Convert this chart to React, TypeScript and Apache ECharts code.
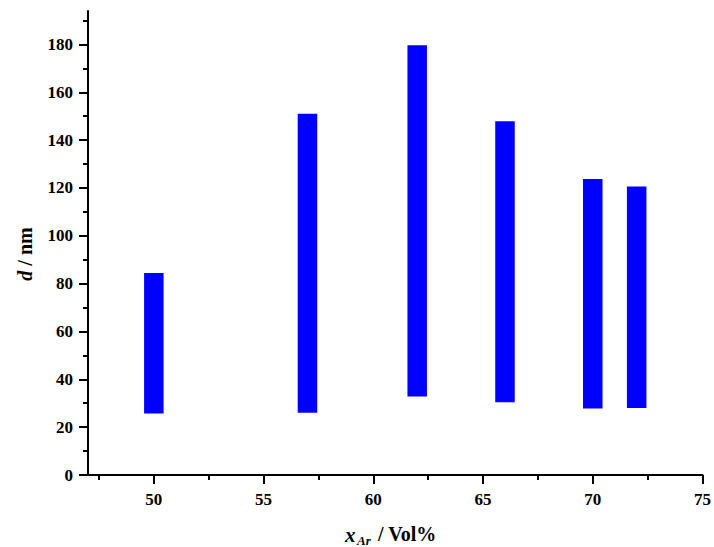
import React, { useEffect, useRef } from "react";
import * as echarts from "echarts";

const xPositions = [50, 57, 62, 66, 70, 72];
const lowValues = [25.7, 26.0, 32.8, 30.4, 27.8, 28.0];
const highValues = [84.5, 151.0, 179.7, 147.9, 123.8, 120.6];

const xMajorTicks = [50, 55, 60, 65, 70, 75];
const xMinorTicks = [47.5, 52.5, 57.5, 62.5, 67.5, 72.5];
const yMajorTicks = [0, 20, 40, 60, 80, 100, 120, 140, 160, 180];
const yMinorTicks = [10, 30, 50, 70, 90, 110, 130, 150, 170, 190];

const FONT = "Liberation Serif";

export default function App() {
  const ref = useRef<HTMLDivElement>(null);
  useEffect(() => {
    document.body.style.margin = "0";
    if (!ref.current) return;
    const chart = echarts.init(ref.current, null, { renderer: "svg" });
    const data = xPositions.map((x, i) => [x, lowValues[i], highValues[i]]);
    const axisLine = { show: true, onZero: false, lineStyle: { color: "#000", width: 2 } };
    const labelStyle = { color: "#000", fontFamily: FONT, fontWeight: "bold" as const, fontSize: 17 };
    chart.setOption({
      animation: false,
      backgroundColor: "#fff",
      grid: { left: 88, right: 10.5, top: 11, bottom: 72, containLabel: false },
      xAxis: [
        {
          type: "value",
          position: "bottom",
          min: 47,
          max: 75,
          axisLine,
          splitLine: { show: false },
          axisTick: { show: true, length: 9, lineStyle: { color: "#000", width: 2 }, customValues: xMajorTicks },
          axisLabel: { ...labelStyle, margin: 16, customValues: xMajorTicks },
        },
        {
          type: "value",
          position: "bottom",
          min: 47,
          max: 75,
          axisLine: { show: false },
          splitLine: { show: false },
          axisTick: { show: true, length: 5, lineStyle: { color: "#000", width: 2 }, customValues: xMinorTicks },
          axisLabel: { show: false },
        },
      ],
      yAxis: [
        {
          type: "value",
          position: "left",
          min: 0,
          max: 194,
          axisLine,
          splitLine: { show: false },
          axisTick: { show: true, length: 9, lineStyle: { color: "#000", width: 2 }, customValues: yMajorTicks },
          axisLabel: { ...labelStyle, margin: 15, customValues: yMajorTicks },
        },
        {
          type: "value",
          position: "left",
          min: 0,
          max: 194,
          axisLine: { show: false },
          splitLine: { show: false },
          axisTick: { show: true, length: 5, lineStyle: { color: "#000", width: 2 }, customValues: yMinorTicks },
          axisLabel: { show: false },
        },
      ],
      series: [
        {
          type: "custom",
          xAxisIndex: 0,
          yAxisIndex: 0,
          data,
          encode: { x: 0, y: [1, 2] },
          renderItem: (params: any, api: any) => {
            const x = api.value(0);
            const lo = api.coord([x, api.value(1)]);
            const hi = api.coord([x, api.value(2)]);
            const w = 19.5;
            return {
              type: "rect",
              shape: { x: lo[0] - w / 2, y: hi[1], width: w, height: lo[1] - hi[1] },
              style: { fill: "#0000ff" },
            };
          },
        },
      ],
      graphic: [
        {
          type: "text",
          x: 25,
          y: 254,
          rotation: Math.PI / 2,
          style: {
            text: "{i|d} / nm",
            align: "center",
            verticalAlign: "middle",
            fill: "#000",
            fontFamily: FONT,
            fontWeight: "bold",
            fontSize: 20,
            rich: {
              i: { fontStyle: "italic", fontWeight: "bold", fontFamily: FONT, fontSize: 20, fill: "#000" },
            },
          },
        },
        {
          type: "text",
          x: 345,
          y: 524,
          style: { text: "x", fill: "#000", fontFamily: FONT, fontWeight: "bold", fontStyle: "italic", fontSize: 21 },
        },
        {
          type: "text",
          x: 357,
          y: 534,
          style: { text: "Ar", fill: "#000", fontFamily: FONT, fontWeight: "bold", fontStyle: "italic", fontSize: 13 },
        },
        {
          type: "text",
          x: 373,
          y: 524,
          style: { text: " / Vol%", fill: "#000", fontFamily: FONT, fontWeight: "bold", fontSize: 20 },
        },
      ],
    });
    return () => chart.dispose();
  }, []);
  return <div ref={ref} style={{ width: 714, height: 547 }} />;
}
